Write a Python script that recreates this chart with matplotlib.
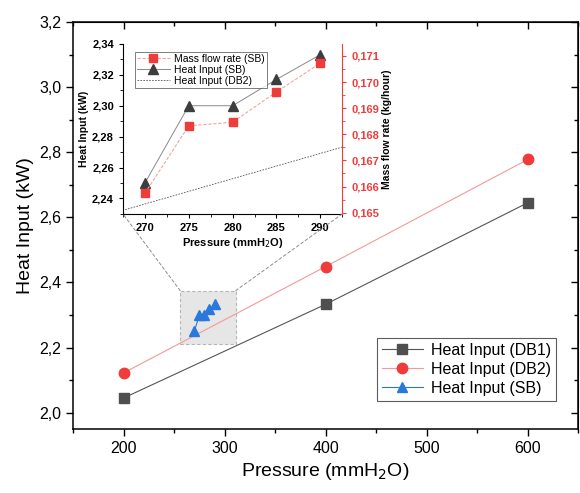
import numpy as np
import matplotlib
matplotlib.use("Agg")
import matplotlib.pyplot as plt
from matplotlib.patches import Rectangle, ConnectionPatch
from matplotlib.ticker import FuncFormatter, MultipleLocator

plt.rcParams["font.family"] = ["Liberation Sans", "DejaVu Sans"]

# main chart data
pressure_db = [200, 400, 600]
heat_db1 = [2.045, 2.333, 2.645]
heat_db2 = [2.122, 2.449, 2.778]

pressure_sb = [270, 275, 280, 285, 290]
heat_sb = [2.250, 2.300, 2.300, 2.317, 2.333]
mass_flow_sb = [0.16574, 0.16832, 0.16846, 0.16962, 0.17072]

# zoom window drawn on the main axes
zoom_x = (256, 311)
zoom_y = (2.21, 2.375)

C_DB1 = "#4f4f4f"
C_DB2 = "#f03b3b"
C_SB = "#2a78dc"


def comma_fmt(decimals):
    return FuncFormatter(lambda v, pos: f"{v:.{decimals}f}".replace(".", ","))


fig = plt.figure(figsize=(5.8, 4.93), dpi=100)
ax = fig.add_axes([0.126, 0.130, 0.871, 0.825])

ax.plot(pressure_db, heat_db1, color="#555555", lw=0.8, marker="s", ms=6.5,
        mfc=C_DB1, mec=C_DB1, label="Heat Input (DB1)")
ax.plot(pressure_db, heat_db2, color="#f39a9a", lw=0.8, marker="o", ms=7.5,
        mfc=C_DB2, mec=C_DB2, label="Heat Input (DB2)")
ax.plot(pressure_sb, heat_sb, color=C_SB, lw=0.8, marker="^", ms=7.5,
        mfc=C_SB, mec=C_SB, label="Heat Input (SB)")

ax.add_patch(Rectangle((zoom_x[0], zoom_y[0]), zoom_x[1] - zoom_x[0],
                       zoom_y[1] - zoom_y[0], facecolor="#e6e6e6",
                       edgecolor="#b5b5b5", ls=(0, (3, 2)), lw=0.8, zorder=0.5))

ax.set_xlim(150, 650)
ax.set_ylim(1.95, 3.2)
ax.xaxis.set_major_locator(MultipleLocator(100))
ax.xaxis.set_minor_locator(MultipleLocator(50))
ax.yaxis.set_major_locator(MultipleLocator(0.2))
ax.yaxis.set_minor_locator(MultipleLocator(0.1))
ax.yaxis.set_major_formatter(comma_fmt(1))
ax.tick_params(which="both", direction="out", labelsize=11.5)
ax.tick_params(which="major", length=5, width=1)
ax.tick_params(which="minor", length=3, width=1)
for s in ax.spines.values():
    s.set_linewidth(1.1)
ax.set_xlabel("Pressure (mmH$_2$O)", fontsize=14, labelpad=4)
ax.set_ylabel("Heat Input (kW)", fontsize=14, labelpad=4)

# inward ticks on the top and right frame
top = ax.secondary_xaxis("top")
right = ax.secondary_yaxis("right")
for sec in (top, right):
    sec.tick_params(which="both", direction="in", labelleft=False,
                    labelright=False, labeltop=False, labelbottom=False)
    sec.tick_params(which="major", length=5, width=1)
    sec.tick_params(which="minor", length=3, width=1)
top.xaxis.set_major_locator(MultipleLocator(100))
top.xaxis.set_minor_locator(MultipleLocator(50))
right.yaxis.set_major_locator(MultipleLocator(0.2))
right.yaxis.set_minor_locator(MultipleLocator(0.1))

leg = ax.legend(loc="lower right", bbox_to_anchor=(0.972, 0.05),
                fontsize=11.5, frameon=True, fancybox=False,
                edgecolor="#333333", handlelength=2.6, borderpad=0.3,
                labelspacing=0.25, handletextpad=0.5)
leg.get_frame().set_linewidth(0.8)

# inset
axi = fig.add_axes([0.212, 0.566, 0.378, 0.345])
axi.set_facecolor("white")
axi.plot(pressure_db, heat_db2, color="#555555", lw=0.6, ls=(0, (2, 1.5)),
         label="Heat Input (DB2)")
axi.plot(pressure_sb, heat_sb, color="#8a8a8a", lw=0.7, marker="^", ms=6.5,
         mfc="#3d3d3d", mec="#3d3d3d", label="Heat Input (SB)")
axi.set_xlim(267.5, 292.5)
axi.set_ylim(2.23, 2.34)
axi.xaxis.set_major_locator(MultipleLocator(5))
axi.xaxis.set_minor_locator(MultipleLocator(2.5))
axi.yaxis.set_major_locator(MultipleLocator(0.02))
axi.yaxis.set_minor_locator(MultipleLocator(0.01))
axi.yaxis.set_major_formatter(comma_fmt(2))
axi.tick_params(which="both", direction="out", labelsize=8)
axi.tick_params(which="major", length=3)
axi.tick_params(which="minor", length=2)
for lab in axi.get_xticklabels() + axi.get_yticklabels():
    lab.set_fontweight("bold")
axi.spines["top"].set_visible(False)
axi.spines["right"].set_visible(False)
axi.set_xlabel("Pressure (mmH$_2$O)", fontsize=8, fontweight="bold", labelpad=2)
axi.set_ylabel("Heat Input (kW)", fontsize=7.5, fontweight="bold", labelpad=2)

axr = axi.twinx()
axr.plot(pressure_sb, mass_flow_sb, color="#f5a3a3", lw=0.8, ls=(0, (3, 1.5)),
         marker="s", ms=5.5, mfc=C_DB2, mec=C_DB2, label="Mass flow rate (SB)")
axr.set_ylim(0.16495, 0.17146)
axr.yaxis.set_major_locator(MultipleLocator(0.001))
axr.yaxis.set_minor_locator(MultipleLocator(0.0005))
axr.yaxis.set_major_formatter(comma_fmt(3))
axr.tick_params(which="both", direction="out", colors=C_DB2, labelsize=8)
axr.tick_params(which="major", length=3)
axr.tick_params(which="minor", length=2)
for lab in axr.get_yticklabels():
    lab.set_fontweight("bold")
axr.spines["right"].set_color(C_DB2)
axr.spines["top"].set_visible(False)
axr.spines["left"].set_visible(False)
axr.spines["bottom"].set_visible(False)
axr.set_ylabel("Mass flow rate (kg/hour)", fontsize=7.5, fontweight="bold",
               labelpad=2)

h1, l1 = axr.get_legend_handles_labels()
h2, l2 = axi.get_legend_handles_labels()
handles = h1 + [h2[1], h2[0]]
labels = l1 + [l2[1], l2[0]]
li = axr.legend(handles, labels, loc="upper left", bbox_to_anchor=(0.03, 0.985),
                fontsize=7.5, fancybox=False, edgecolor="#444444",
                handlelength=3.2, borderpad=0.2, labelspacing=0.1,
                handletextpad=0.4)
li.get_frame().set_linewidth(0.6)

# connector lines from zoom window to inset
for xa, xb in [(zoom_x[0], 0.0), (zoom_x[1], 1.0)]:
    con = ConnectionPatch(xyA=(xa, zoom_y[1]), coordsA=ax.transData,
                          xyB=(xb, 0.0), coordsB=axi.transAxes,
                          color="#8c8c8c", lw=0.7, ls=(0, (3, 2.5)))
    fig.add_artist(con)

fig.savefig("out.png", dpi=100)
